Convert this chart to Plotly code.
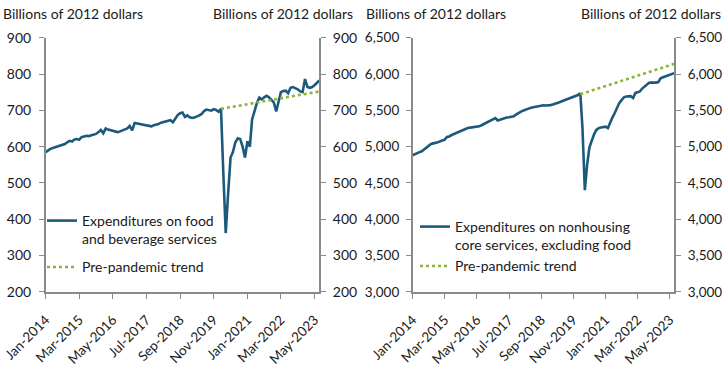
import pandas as pd
import plotly.graph_objects as go

months = pd.date_range("2014-01-01", periods=115, freq="MS")

food = [585, 590, 594, 596, 598, 601, 603, 605, 607, 612, 616, 614, 620, 621, 619, 626,
        629, 630, 629, 631, 633, 635, 640, 646, 637, 650, 647, 645, 643, 641, 640, 642,
        645, 647, 650, 657, 645, 665, 664, 663, 662, 661, 659, 658, 656, 659, 660, 662,
        666, 668, 668, 670, 673, 667, 678, 687, 692, 694, 682, 686, 681, 679, 680, 682,
        686, 690, 698, 702, 701, 699, 703, 701, 696, 704, 530, 362, 470, 570, 585, 612,
        623, 621, 600, 570, 615, 600, 675, 702, 720, 735, 730, 736, 740, 736, 730, 722,
        697, 728, 750, 753, 754, 747, 762, 764, 761, 758, 752, 750, 786, 764, 762, 764,
        769, 775, 782]

core = [4881, 4900, 4913, 4925, 4936, 4960, 4982, 5010, 5037, 5045, 5050, 5062, 5073, 5085,
        5096, 5133, 5140, 5160, 5174, 5190, 5205, 5220, 5235, 5245, 5257, 5262, 5266, 5272,
        5276, 5280, 5295, 5312, 5330, 5350, 5372, 5385, 5394, 5360, 5370, 5385, 5394, 5400,
        5405, 5410, 5417, 5440, 5463, 5480, 5495, 5510, 5518, 5530, 5538, 5546, 5555, 5565,
        5573, 5570, 5566, 5564, 5572, 5580, 5587, 5600, 5612, 5624, 5635, 5645, 5656, 5668,
        5680, 5693, 5710, 5735, 5250, 4400, 4750, 4990, 5090, 5170, 5230, 5255, 5265, 5270,
        5275, 5255, 5330, 5400, 5460, 5540, 5600, 5640, 5680, 5690, 5690, 5695, 5670, 5740,
        5750, 5760, 5800, 5830, 5850, 5880, 5882, 5880, 5882, 5890, 5940, 5955, 5965, 5975,
        5990, 6000, 6012]

trend_dates = ["2020-02-01", "2023-07-01"]
food_trend = [704, 752]
core_trend = [5722, 6140]

tick_dates = ["2014-01-01", "2015-03-01", "2016-05-01", "2017-07-01", "2018-09-01",
              "2019-11-01", "2021-01-01", "2022-03-01", "2023-05-01"]
tick_labels = ["Jan-2014", "Mar-2015", "May-2016", "Jul-2017", "Sep-2018",
               "Nov-2019", "Jan-2021", "Mar-2022", "May-2023"]

food_name = "Expenditures on food<br>and beverage services"
core_name = "Expenditures on nonhousing<br>core services, excluding food"
trend_name = "Pre-pandemic trend"
unit_label = "Billions of 2012 dollars"

LINE = "#1c5a7b"
TREND = "#8cb43c"
AXIS = "#8a8a8a"
TXT = "#1a1a1a"
FONT = "Lato"
W, H = 725, 379

fig = go.Figure()
fig.add_trace(go.Scatter(x=months, y=food, mode="lines", name=food_name,
                         line=dict(color=LINE, width=2.6), xaxis="x", yaxis="y",
                         legend="legend", legendgroup="a"))
fig.add_trace(go.Scatter(x=trend_dates, y=food_trend, mode="lines", name=trend_name,
                         line=dict(color=TREND, width=2.6, dash="dot"), xaxis="x", yaxis="y",
                         legend="legend", legendgroup="b"))
fig.add_trace(go.Scatter(x=months, y=core, mode="lines", name=core_name,
                         line=dict(color=LINE, width=2.6), xaxis="x2", yaxis="y3",
                         legend="legend2"))
fig.add_trace(go.Scatter(x=trend_dates, y=core_trend, mode="lines", name=trend_name,
                         line=dict(color=TREND, width=2.6, dash="dot"), xaxis="x2", yaxis="y3",
                         legend="legend2"))
# invisible traces to activate right-hand axes
fig.add_trace(go.Scatter(x=months, y=food, mode="lines", line=dict(width=0),
                         xaxis="x", yaxis="y2", showlegend=False, hoverinfo="skip", opacity=0))
fig.add_trace(go.Scatter(x=months, y=core, mode="lines", line=dict(width=0),
                         xaxis="x2", yaxis="y4", showlegend=False, hoverinfo="skip", opacity=0))

ydom = [1 - 291.9 / H, 1 - 37.7 / H]
xdom1 = [45.7 / W, 319.3 / W]
xdom2 = [412.7 / W, 674.3 / W]

tickfont = dict(family=FONT, size=14, color=TXT)
xcommon = dict(type="date", range=["2014-01-01", "2023-07-01"], tickvals=tick_dates,
               ticktext=tick_labels, tickangle=-45, ticks="outside", ticklen=5,
               tickcolor=AXIS, showline=True, linecolor=AXIS, linewidth=1.5,
               showgrid=False, zeroline=False, automargin=False,
               tickfont=dict(family=FONT, size=13.5, color=TXT),
               ticklabelstandoff=8, ticklabeloverflow="allow")
ycommon = dict(ticks="outside", ticklen=5, tickcolor=AXIS, showline=True, linecolor=AXIS,
               linewidth=1.5, showgrid=False, zeroline=False, automargin=False,
               ticklabeloverflow="allow")

fig.update_layout(
    width=W, height=H, margin=dict(l=0, r=0, t=0, b=0),
    paper_bgcolor="white", plot_bgcolor="white",
    font=dict(family=FONT, size=14, color=TXT),
    xaxis=dict(domain=xdom1, anchor="y", **xcommon),
    xaxis2=dict(domain=xdom2, anchor="y3", **xcommon),
    yaxis=dict(domain=ydom, anchor="x", range=[200, 900], dtick=100, side="left",
               tickfont=tickfont, ticklabelstandoff=5, **ycommon),
    yaxis2=dict(domain=ydom, anchor="x", overlaying="y", range=[200, 900], dtick=100,
                side="right", tickfont=tickfont, ticklabelstandoff=4, **ycommon),
    yaxis3=dict(domain=ydom, anchor="x2", range=[3000, 6500], dtick=500, tickformat=",",
                side="left", tickfont=dict(family=FONT, size=13.5, color=TXT),
                ticklabelstandoff=4, **ycommon),
    yaxis4=dict(domain=ydom, anchor="x2", overlaying="y3", range=[3000, 6500], dtick=500,
                tickformat=",", side="right", tickfont=dict(family=FONT, size=13.5, color=TXT),
                ticklabelstandoff=4, **ycommon),
    legend=dict(x=42 / W, y=1 - 205 / H, xanchor="left", yanchor="top",
                bgcolor="rgba(0,0,0,0)", font=dict(family=FONT, size=14, color=TXT),
                valign="top", tracegroupgap=7),
    legend2=dict(x=415 / W, y=1 - 211 / H, xanchor="left", yanchor="top",
                 bgcolor="rgba(0,0,0,0)", font=dict(family=FONT, size=14, color=TXT),
                 valign="top", tracegroupgap=0),
    showlegend=True,
)

ann_y = 1 - 14 / H
for xpos, anchor in [(1 / W, "left"), (355 / W, "right"), (364 / W, "left"), (723 / W, "right")]:
    fig.add_annotation(text=unit_label, x=xpos, y=ann_y, xref="paper", yref="paper",
                       xanchor=anchor, yanchor="middle", showarrow=False,
                       font=dict(family=FONT, size=14, color=TXT))

fig.write_html("out.html", config={"displayModeBar": False},
               post_script="document.body.style.margin='0';")
